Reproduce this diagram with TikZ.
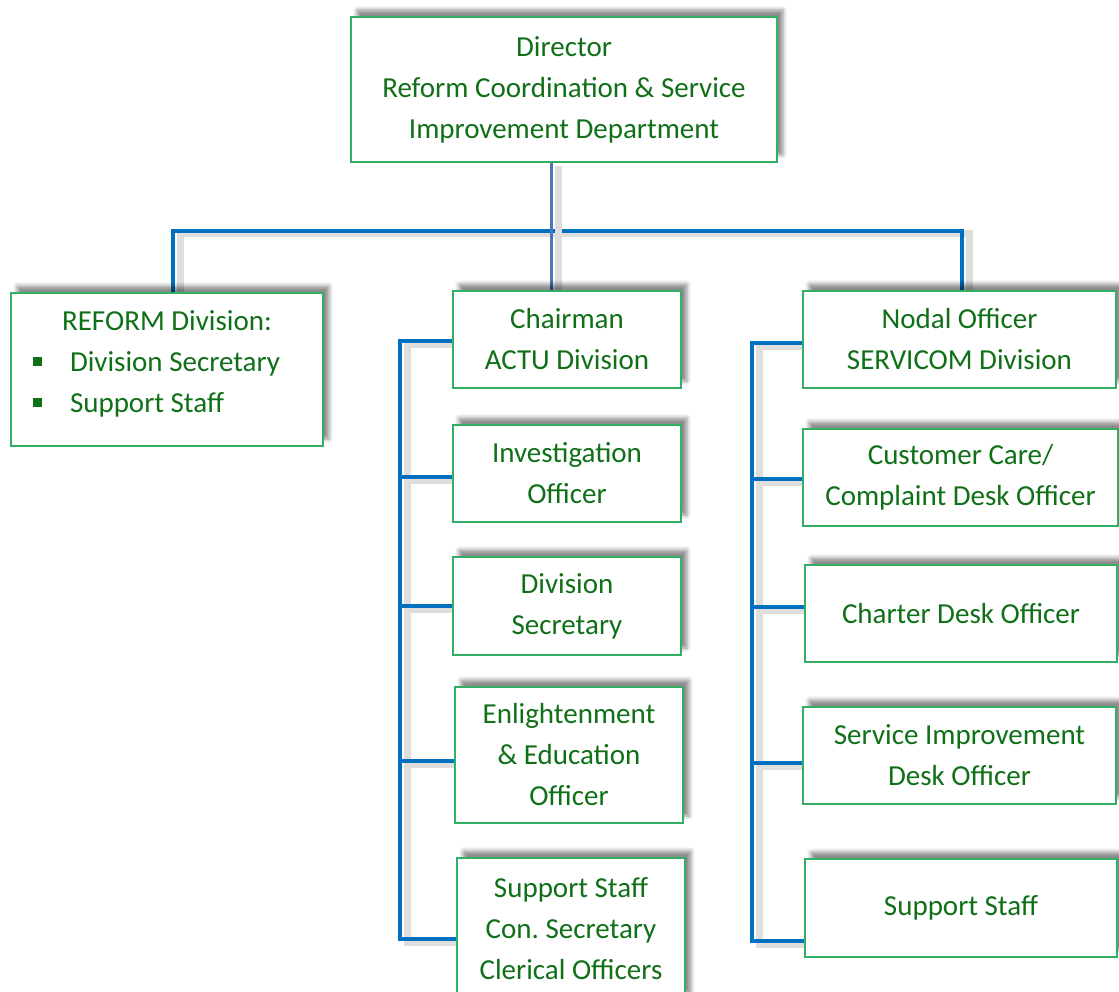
\documentclass[tikz,border=0pt]{standalone}
\usepackage{fontspec}
\setmainfont{Carlito}
\usetikzlibrary{shadows.blur,backgrounds}
\definecolor{txtgreen}{RGB}{16,112,24}
\definecolor{boxgreen}{RGB}{50,175,100}
\definecolor{lineblue}{RGB}{0,112,192}
\definecolor{lineblueb}{RGB}{70,120,190}
\begin{document}
\begin{tikzpicture}[x=1pt,y=-1pt,
  boxtext/.style={text=txtgreen, align=center, font=\fontsize{29}{41}\selectfont, inner sep=0pt},
  orgbox/.style={boxtext, draw=boxgreen, line width=1.3pt, fill=white,
    blur shadow={shadow xshift=6pt, shadow yshift=7pt, shadow blur radius=4pt, shadow opacity=45}},
  conn/.style={draw=lineblue, line width=4pt,
    preaction={draw=black!13, line width=7pt, transform canvas={shift={(7pt,-3pt)}}}},
  conndir/.style={draw=lineblueb, line width=3pt,
    preaction={draw=black!13, line width=7pt, transform canvas={shift={(7pt,-3pt)}}}},
]
\useasboundingbox (0,0) rectangle (1119,992);

% boxes
\node[orgbox, minimum width=426pt, minimum height=145pt] (dir) at (564,89.5)
  {Director\\Reform Coordination \& Service\\Improvement Department};

\node[orgbox, minimum width=312pt, minimum height=153pt] (reform) at (167,369.5) {};
\node[boxtext, align=left] (reformtxt) at (167,364)
  {\makebox[312pt][c]{REFORM Division:}\\
   \makebox[312pt][l]{\hspace*{22pt}\raisebox{6pt}{\rule{9pt}{9pt}}\hspace{28pt}Division Secretary}\\
   \makebox[312pt][l]{\hspace*{22pt}\raisebox{6pt}{\rule{9pt}{9pt}}\hspace{28pt}Support Staff}};

\node[orgbox, minimum width=228pt, minimum height=97pt] (chair) at (567,339.5) {Chairman\\ACTU Division};
\node[orgbox, minimum width=228pt, minimum height=97pt] (inv) at (567,473.5) {Investigation\\Officer};
\node[orgbox, minimum width=228pt, minimum height=98pt] (dsec) at (567,606) {Division\\Secretary};
\node[orgbox, minimum width=228pt, minimum height=136pt] (enl) at (569,755) {Enlightenment\\\& Education\\Officer};
\node[orgbox, minimum width=228pt, minimum height=142pt] (sup1) at (571,929) {Support Staff\\Con.\ Secretary\\Clerical Officers};

\node[orgbox, minimum width=313pt, minimum height=97pt] (nodal) at (959.5,339.5) {Nodal Officer\\SERVICOM Division};
\node[orgbox, minimum width=315pt, minimum height=97pt] (cc) at (960.5,477.5) {Customer Care/\\Complaint Desk Officer};
\node[orgbox, minimum width=312pt, minimum height=97pt] (charter) at (961,613.5) {Charter Desk Officer};
\node[orgbox, minimum width=313pt, minimum height=97pt] (sid) at (959.5,755.5) {Service Improvement\\Desk Officer};
\node[orgbox, minimum width=312pt, minimum height=98pt] (sup2) at (961,908) {Support Staff};

% connector anchor points
\coordinate (dirx) at (551,0);
\coordinate (hbL) at (173,231);
\coordinate (hbR) at (962,231);
\coordinate (aT) at (400,341);
\coordinate (aI) at (400,477);
\coordinate (aD) at (400,606);
\coordinate (aE) at (400,761);
\coordinate (aB) at (400,939);
\coordinate (sT) at (752,343);
\coordinate (sC) at (752,479);
\coordinate (sH) at (752,607);
\coordinate (sS) at (752,763);
\coordinate (sB) at (752,941);

\begin{scope}[on background layer]
\draw[conn] (reform.north -| hbL) -- (hbL) -- (hbR) -- (nodal.north -| hbR);
\draw[conndir] (dir.south -| dirx) -- (chair.north -| dirx);

\draw[conn] (chair.west |- aT) -- (aT) -- (aB) -- (sup1.west |- aB);
\draw[conn] (aI) -- (inv.west |- aI);
\draw[conn] (aD) -- (dsec.west |- aD);
\draw[conn] (aE) -- (enl.west |- aE);

\draw[conn] (nodal.west |- sT) -- (sT) -- (sB) -- (sup2.west |- sB);
\draw[conn] (sC) -- (cc.west |- sC);
\draw[conn] (sH) -- (charter.west |- sH);
\draw[conn] (sS) -- (sid.west |- sS);
\end{scope}
\end{tikzpicture}
\end{document}
